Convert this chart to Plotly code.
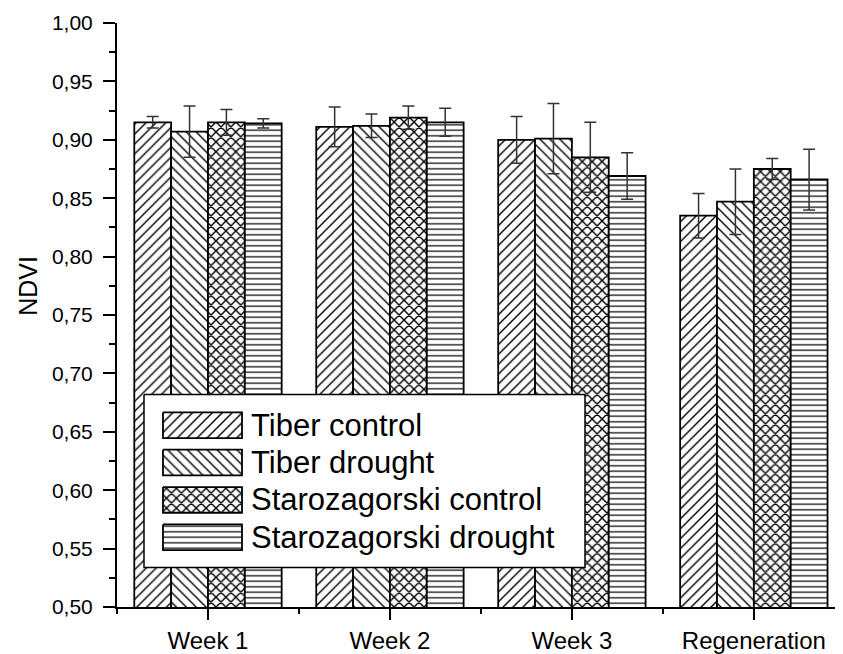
import plotly.graph_objects as go

categories = ["Week 1", "Week 2", "Week 3", "Regeneration"]

series_names = ["Tiber control", "Tiber drought", "Starozagorski control", "Starozagorski drought"]
tiber_control = [0.915, 0.911, 0.900, 0.835]
tiber_control_err = [0.005, 0.017, 0.020, 0.019]
tiber_drought = [0.907, 0.912, 0.901, 0.847]
tiber_drought_err = [0.022, 0.010, 0.030, 0.028]
staro_control = [0.915, 0.919, 0.885, 0.875]
staro_control_err = [0.011, 0.010, 0.030, 0.009]
staro_drought = [0.914, 0.915, 0.869, 0.866]
staro_drought_err = [0.004, 0.012, 0.020, 0.026]

y_ticks = [0.50, 0.55, 0.60, 0.65, 0.70, 0.75, 0.80, 0.85, 0.90, 0.95, 1.00]

values = [tiber_control, tiber_drought, staro_control, staro_drought]
errors = [tiber_control_err, tiber_drought_err, staro_control_err, staro_drought_err]
patterns = [("/", 7, 0.2), ("\\", 7, 0.2), ("x", 7, 0.36), ("-", 5.5, 0.22)]

FONT = "Arial, Liberation Sans, sans-serif"
# the page body has an 8px margin, so the figure is shrunk by that much
PAD = 8
W, H = 843 - PAD, 654 - PAD
L, R, T, B = 117 - PAD, 0, 23 - PAD, 40

x_pos = list(range(len(categories)))

fig = go.Figure()

for name, vals, errs, (shape, size, sol) in zip(series_names, values, errors, patterns):
    fig.add_trace(go.Bar(
        x=x_pos, y=vals, name=name,
        marker=dict(
            color="white",
            line=dict(color="black", width=1.8),
            pattern=dict(shape=shape, size=size, solidity=sol, fgcolor="black",
                         bgcolor="white", fgopacity=1),
        ),
        error_y=dict(type="data", array=errs, visible=True, color="#333333", thickness=1.5, width=6),
        showlegend=False,
    ))

# hand-drawn legend (wide hatched swatches) on an overlay axis, positions in screen pixels
pw, ph = W - L - R, H - T - B
def fx(px):
    return (px - PAD - L) / pw
def fy(py):
    return (H - B - (py - PAD)) / ph

box_l, box_r, box_t, box_b = 144, 585, 399, 574
fig.add_trace(go.Scatter(
    x=[fx(box_l), fx(box_r), fx(box_r), fx(box_l), fx(box_l)],
    y=[fy(box_t), fy(box_t), fy(box_b), fy(box_b), fy(box_t)],
    mode="lines", fill="toself", fillcolor="white",
    line=dict(color="black", width=1.5),
    xaxis="x2", yaxis="y2", showlegend=False, hoverinfo="skip",
))

sw_l, sw_r, row0, step, sw_h = 163, 242, 430, 37.8, 26
for i, (name, (shape, size, sol)) in enumerate(zip(series_names, patterns)):
    cy = row0 + i * step
    t, b = cy - sw_h / 2, cy + sw_h / 2
    fig.add_trace(go.Scatter(
        x=[fx(sw_l), fx(sw_r), fx(sw_r), fx(sw_l), fx(sw_l)],
        y=[fy(t), fy(t), fy(b), fy(b), fy(t)],
        mode="lines", fill="toself", fillcolor="white",
        fillpattern=dict(shape=shape, size=size, solidity=sol, fgcolor="black",
                         bgcolor="white", fgopacity=1),
        line=dict(color="black", width=1.8),
        xaxis="x2", yaxis="y2", showlegend=False, hoverinfo="skip",
    ))
    fig.add_annotation(
        x=fx(249), y=fy(cy), xref="x2", yref="y2",
        text=name, showarrow=False, xanchor="left", yanchor="middle",
        font=dict(family=FONT, size=31, color="black"),
    )

fig.add_annotation(
    x=fx(28), y=0.775, xref="paper", yref="y",
    text="NDVI", showarrow=False, textangle=-90,
    xanchor="center", yanchor="middle",
    font=dict(family=FONT, size=25, color="black"),
)

fig.update_layout(
    width=W, height=H,
    margin=dict(l=L, r=R, t=T, b=B),
    paper_bgcolor="white",
    plot_bgcolor="white",
    barmode="group",
    bargap=0.19,
    bargroupgap=0,
    separators=", ",
    font=dict(family=FONT, color="black"),
    showlegend=False,
    xaxis=dict(
        range=[-0.5, 3.49],
        tickvals=x_pos, ticktext=categories,
        showgrid=False, zeroline=False,
        showline=True, linecolor="black", linewidth=2,
        ticks="outside", ticklen=11, tickwidth=2, tickcolor="black",
        tickfont=dict(family=FONT, size=24, color="black"),
        minor=dict(tick0=0.5, dtick=1, ticks="outside", ticklen=5, tickwidth=2, tickcolor="black"),
    ),
    yaxis=dict(
        range=[0.5, 1.0],
        tickvals=y_ticks, tickformat=".2f",
        showgrid=False, zeroline=False,
        showline=True, linecolor="black", linewidth=2,
        ticks="outside", ticklen=12, tickwidth=2, tickcolor="black",
        ticklabelstandoff=6,
        tickfont=dict(family=FONT, size=21, color="black"),
        minor=dict(tick0=0.525, dtick=0.05, ticks="outside", ticklen=6, tickwidth=2, tickcolor="black"),
    ),
    xaxis2=dict(range=[0, 1], overlaying="x", anchor="y2", visible=False, fixedrange=True),
    yaxis2=dict(range=[0, 1], overlaying="y", anchor="x2", visible=False, fixedrange=True),
)

fig.write_html("out.html")
